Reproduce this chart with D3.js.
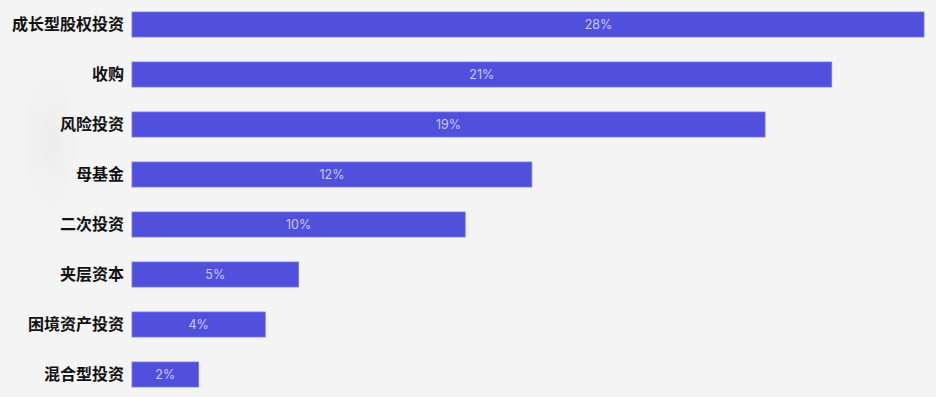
<!DOCTYPE html>
<html>
<head>
<meta charset="utf-8">
<script src="https://cdn.jsdelivr.net/npm/d3@7"></script>
<style>
  html, body { margin: 0; padding: 0; background: #f4f4f4; }
  svg { display: block; }
</style>
</head>
<body>
<div id="chart"></div>
<script>
// categories and values
var categories = ["成长型股权投资", "收购", "风险投资", "母基金", "二次投资", "夹层资本", "困境资产投资", "混合型投资"];
var values = [28, 21, 19, 12, 10, 5, 4, 2];
var valueLabels = ["28%", "21%", "19%", "12%", "10%", "5%", "4%", "2%"];

var width = 936, height = 397;
var margin = {top: 12, right: 12, bottom: 10, left: 132};
var barH = 25, step = 50;

var svg = d3.select("#chart")
  .append("svg")
  .attr("width", width)
  .attr("height", height);

// soft shading on the left like the photo
var defs = svg.append("defs");
var grad = defs.append("radialGradient")
  .attr("id", "shade")
  .attr("cx", "50%").attr("cy", "50%").attr("r", "50%");
grad.append("stop").attr("offset", "0%").attr("stop-color", "#e9e9e9").attr("stop-opacity", 0.7);
grad.append("stop").attr("offset", "100%").attr("stop-color", "#f4f4f4").attr("stop-opacity", 0);

svg.append("rect").attr("width", width).attr("height", height).attr("fill", "#f4f4f4");
svg.append("ellipse")
  .attr("cx", 50).attr("cy", 140)
  .attr("rx", 50).attr("ry", 120)
  .attr("fill", "url(#shade)");

// 1% is about 33.3px; the first bar is cut at the right edge
var x = d3.scaleLinear()
  .domain([0, 23.77])
  .range([margin.left, width - margin.right]);
var xBar = x.copy().clamp(true);

var y = d3.scaleBand()
  .domain(categories)
  .range([margin.top, margin.top + step * (categories.length - 1) + barH])
  .paddingInner(1 - barH / step)
  .paddingOuter(0);

var rows = svg.selectAll("g.row")
  .data(categories)
  .enter()
  .append("g")
  .attr("class", "row");

rows.append("rect")
  .attr("x", x(0))
  .attr("y", function(d) { return y(d); })
  .attr("width", function(d, i) { return xBar(values[i]) - x(0); })
  .attr("height", y.bandwidth())
  .attr("fill", "#5050dd")
  .attr("stroke", "#7676e6")
  .attr("stroke-width", 0.8);

rows.append("text")
  .attr("x", function(d, i) { return (x(0) + x(values[i])) / 2; })
  .attr("y", function(d) { return y(d) + y.bandwidth() / 2; })
  .attr("dy", "0.36em")
  .attr("text-anchor", "middle")
  .attr("fill", "#c9c9f4")
  .style("font-family", "Inter, 'Noto Sans', sans-serif")
  .style("font-size", "12.5px")
  .text(function(d, i) { return valueLabels[i]; });

rows.append("text")
  .attr("x", x(0) - 8)
  .attr("y", function(d) { return y(d) + y.bandwidth() / 2; })
  .attr("dy", "0.36em")
  .attr("text-anchor", "end")
  .attr("fill", "#111")
  .style("font-family", "'Noto Sans CJK SC', sans-serif")
  .style("font-weight", "bold")
  .style("font-size", "16px")
  .text(function(d) { return d; });
</script>
</body>
</html>
